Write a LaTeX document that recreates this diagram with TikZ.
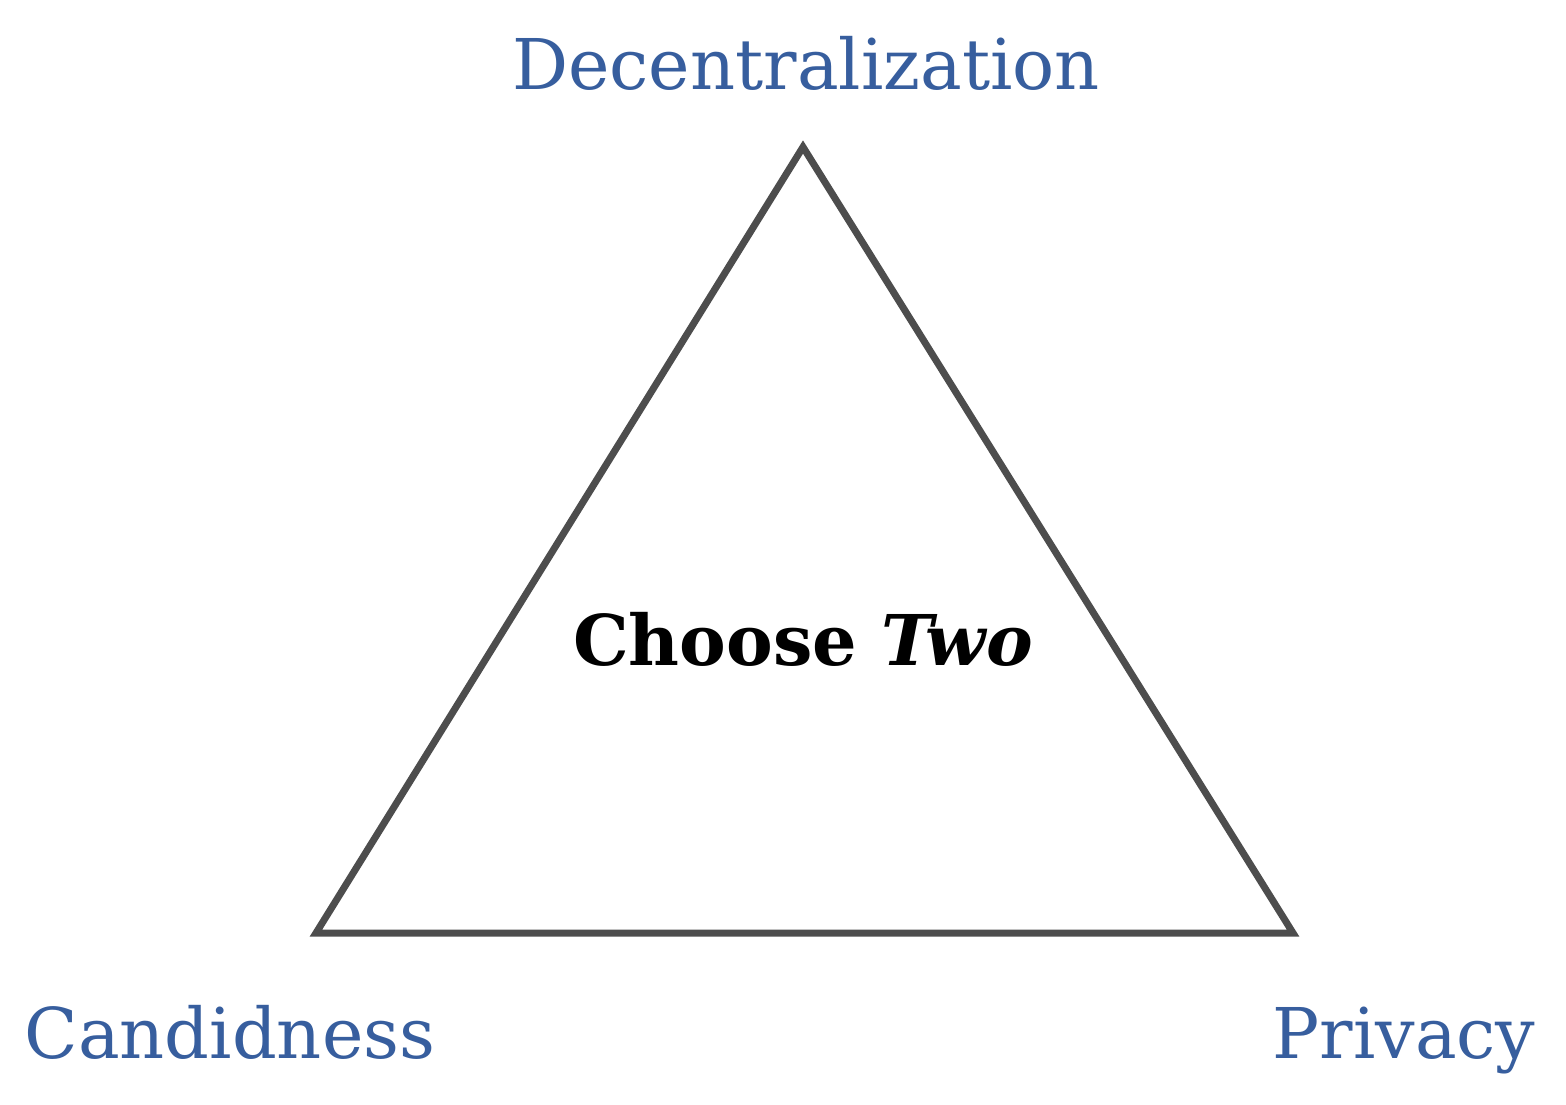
\documentclass[tikz,border=0pt]{standalone}
\usepackage{fontspec}
\setmainfont{DejaVu Serif}
\definecolor{lblue}{HTML}{375E9E}
\definecolor{tgray}{HTML}{4D4D4D}
\tikzset{
  corner/.style={text=lblue, inner sep=0pt, anchor=base, font=\fontsize{70}{84}\selectfont},
  tri/.style={draw=tgray, line width=7pt, miter limit=20},
  center/.style={inner sep=0pt, anchor=base, font=\fontsize{70}{84}\selectfont\bfseries}
}
\begin{document}
\begin{tikzpicture}[x=1pt,y=1pt]
\useasboundingbox (0,0) rectangle (1566,1104);
\coordinate (top) at (803,957);
\coordinate (bl) at (316,171);
\coordinate (br) at (1293,171);
\draw[tri] (top) -- (br) -- (bl) -- cycle;
\node[corner] (dec) at (806,1014) {Decentralization};
\node[corner] (cand) at (230,46) {Candidness};
\node[corner] (priv) at (1404,46) {Privacy};
\node[center] (choose) at (803,438) {Choose \textit{Two}};
\end{tikzpicture}
\end{document}
